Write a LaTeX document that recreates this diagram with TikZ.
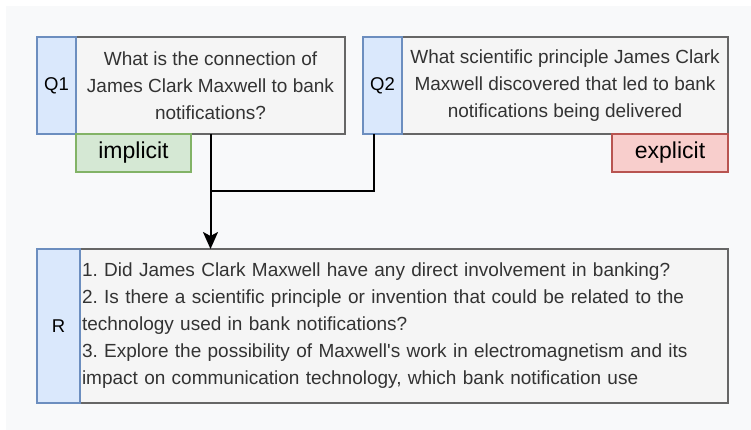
\documentclass[tikz,border=0pt]{standalone}
\usepackage{fontspec}
\setmainfont{Liberation Sans}[Ligatures=TeXOff]
\usetikzlibrary{arrows.meta,positioning,calc}
\definecolor{bgc}{HTML}{F8F9FA}
\definecolor{lblfill}{HTML}{DAE8FC}
\definecolor{lbldraw}{HTML}{6C8EBF}
\definecolor{txtfill}{HTML}{F5F5F5}
\definecolor{txtdraw}{HTML}{666666}
\definecolor{txtcol}{HTML}{333333}
\definecolor{impfill}{HTML}{D5E8D4}
\definecolor{impdraw}{HTML}{82B366}
\definecolor{expfill}{HTML}{F8CECC}
\definecolor{expdraw}{HTML}{B85450}
\tikzset{
  box/.style={rectangle, inner sep=0pt, outer sep=0pt, anchor=north west, line width=1.5pt},
  lblbox/.style={box, fill=lblfill, draw=lbldraw, text=black, font=\fontsize{18.5}{22}\selectfont},
  txtbox/.style={box, fill=txtfill, draw=txtdraw, text=txtcol, font=\fontsize{19}{27}\selectfont},
  tagbox/.style={box, text=black, font=\fontsize{23}{27}\selectfont},
  conn/.style={line width=2pt, black},
}
\frenchspacing
\begin{document}
\begin{tikzpicture}[x=1pt,y=-1pt]
\useasboundingbox (0,0) rectangle (751,430);
\fill[bgc] (6,6) rectangle (751,430);
% Q1
\node[txtbox, minimum width=269pt, minimum height=97pt, align=center] (q1) at (76,37)
  {What is the connection of\\James Clark Maxwell to bank\\notifications?};
\node[lblbox, minimum width=39pt, minimum height=97pt] (q1l) at (37,37) {Q1};
\node[tagbox, fill=impfill, draw=impdraw, minimum width=115pt, minimum height=38pt] (imp) at (76,134) {implicit};
% Q2
\node[txtbox, minimum width=326pt, minimum height=97pt, align=center] (q2) at (402,37)
  {What scientific principle James Clark\\Maxwell discovered that led to bank\\notifications being delivered};
\node[lblbox, minimum width=39pt, minimum height=97pt] (q2l) at (363,37) {Q2};
\node[tagbox, fill=expfill, draw=expdraw, minimum width=116pt, minimum height=38pt] (exp) at (612,134) {explicit};
% R
\node[txtbox, minimum width=648pt, minimum height=154pt, align=left, text width=646pt] (r) at (80,249)
  {\hspace*{1pt}1. Did James Clark Maxwell have any direct involvement in banking?\\
   \hspace*{1pt}2. Is there a scientific principle or invention that could be related to the\\
   \hspace*{1pt}technology used in bank notifications?\\
   \hspace*{1pt}3. Explore the possibility of Maxwell's work in electromagnetism and its\\
   \hspace*{1pt}impact on communication technology, which bank notification use};
\node[lblbox, minimum width=43pt, minimum height=154pt] (rl) at (37,249) {R};
% connectors
\coordinate (j) at ($(q1.south)+(0,57)$);
\draw[conn] ($(q2l.south west)+(11,0)$) |- (j);
\draw[conn, -{Stealth[length=17pt,width=15pt,inset=4pt]}] (q1.south) -- (q1.south |- r.north);
\end{tikzpicture}
\end{document}
